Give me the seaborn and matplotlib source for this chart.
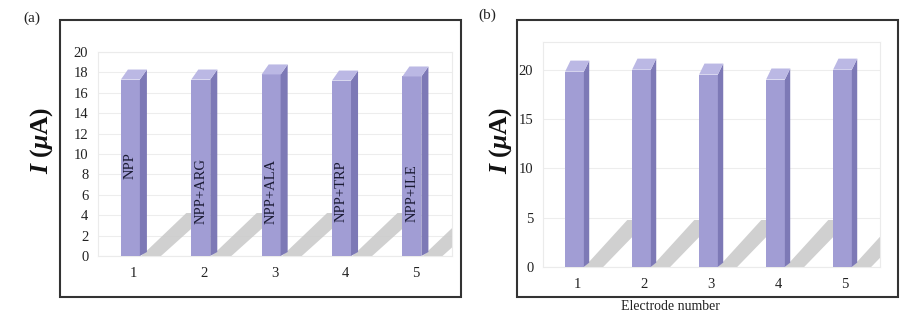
import matplotlib
matplotlib.use("Agg")
import matplotlib.pyplot as plt
import seaborn as sns
import pandas as pd
from matplotlib.patches import Polygon, Rectangle

# ---- data ----
electrodes = ["1", "2", "3", "4", "5"]
current_a = [17.3, 17.3, 17.8, 17.2, 17.6]
labels_a = ["NPP", "NPP+ARG", "NPP+ALA", "NPP+TRP", "NPP+ILE"]
label_y_a = [8.9, 6.4, 6.3, 6.4, 6.2]
current_b = [19.8, 20.0, 19.5, 19.0, 20.0]
yticks_a = list(range(0, 21, 2))
yticks_b = [0, 5, 10, 15, 20]

sns.set_theme(style="white")
plt.rcParams["font.family"] = ["Liberation Serif", "DejaVu Serif"]
plt.rcParams["mathtext.fontset"] = "custom"
plt.rcParams["mathtext.rm"] = "Liberation Serif"
plt.rcParams["mathtext.bf"] = "Liberation Serif:bold"
plt.rcParams["mathtext.it"] = "Liberation Serif:italic"
plt.rcParams["mathtext.bfit"] = "Liberation Serif:bold:italic"

W, H = 908, 322
fig = plt.figure(figsize=(W / 100, H / 100), dpi=100)

FRONT = "#a19dd4"
SIDE = "#7d79b6"
TOP = "#bbb8e4"
SHADOW = "#cbcbcb"


def ax_box(l, r, t, b):
    return [l / W, (H - b) / H, (r - l) / W, (b - t) / H]


def draw_panel(ax, values, ylim, yticks, width, dx_units, dy_px, shadow_px):
    df = pd.DataFrame({"electrode": electrodes, "I": values})
    sns.barplot(data=df, x="electrode", y="I", order=electrodes, color=FRONT,
                width=width, saturation=1, ax=ax, zorder=3, edgecolor="none")
    ax.set_ylim(*ylim)
    ax.set_xlim(-0.51, len(electrodes) - 1 + 0.52)
    bbox = ax.get_window_extent()
    upp = (ylim[1] - ylim[0]) / bbox.height
    dy = dy_px * upp
    sh = shadow_px * upp
    for p in ax.patches[:len(values)]:
        x0 = p.get_x() - dx_units / 2
        p.set_x(x0)
        w = p.get_width()
        h = p.get_height()
        side = Polygon([(x0 + w, 0), (x0 + w + dx_units, dy * 0.4),
                        (x0 + w + dx_units, h + dy), (x0 + w, h)],
                       closed=True, facecolor=SIDE, edgecolor="none", zorder=3)
        top = Polygon([(x0, h), (x0 + w, h), (x0 + w + dx_units, h + dy),
                       (x0 + dx_units, h + dy)],
                      closed=True, facecolor=TOP, edgecolor="none", zorder=3)
        xs = x0 + w + dx_units * 0.6
        shadow = Polygon([(xs - 0.04, 0), (xs + 0.24, 0), (xs + 0.92, sh),
                          (xs + 0.60, sh)],
                         closed=True, facecolor=SHADOW, edgecolor="none",
                         zorder=2, alpha=0.9)
        ax.add_patch(side)
        ax.add_patch(top)
        ax.add_patch(shadow)
    ax.set_yticks(yticks)
    ax.set_xlabel("")
    ax.set_ylabel("")
    ax.grid(axis="y", color="#ededed", lw=0.8, zorder=0)
    for s in ax.spines.values():
        s.set_color("#ebebeb")
        s.set_linewidth(0.8)
    ax.tick_params(axis="both", length=0, labelsize=10.5, colors="#222222")
    ax.tick_params(axis="y", pad=7)
    ax.tick_params(axis="x", pad=8)


# Panel (a)
ax1 = fig.add_axes(ax_box(98, 452, 52, 256))
draw_panel(ax1, current_a, (0, 20), yticks_a, 0.27, 0.1, 10, 43)
for i, (lab, ly) in enumerate(zip(labels_a, label_y_a)):
    p = ax1.patches[i]
    ax1.text(p.get_x() + p.get_width() / 2, ly, lab, rotation=90,
             ha="center", va="center", fontsize=10.5, color="#1a1a33", zorder=5)

# Panel (b)
ax2 = fig.add_axes(ax_box(543, 880, 42, 267))
draw_panel(ax2, current_b, (0, 22.8), yticks_b, 0.28, 0.08, 11, 47)

ylab = r"$\mathbfit{I}\ \mathbf{(}\mathbfit{\mu}\mathbf{A)}$"
fig.text(42 / W, 1 - 140 / H, ylab, rotation=90, ha="center", va="center",
         fontsize=18.5, color="#111111")
fig.text(501 / W, 1 - 140 / H, ylab, rotation=90, ha="center", va="center",
         fontsize=18.5, color="#111111")
fig.text(670 / W, 1 - 307 / H, "Electrode number", ha="center", va="center",
         fontsize=10, color="#222222")
fig.text(32 / W, 1 - 18 / H, "(a)", ha="center", va="center", fontsize=11,
         color="#222222")
fig.text(487 / W, 1 - 15 / H, "(b)", ha="center", va="center", fontsize=11,
         color="#222222")

# outer frames
fig.patches.append(Rectangle((60 / W, 1 - 297 / H), 401 / W, 277 / H,
                             transform=fig.transFigure, fill=False,
                             edgecolor="#333333", lw=1.5))
fig.patches.append(Rectangle((517 / W, 1 - 297 / H), 381 / W, 277 / H,
                             transform=fig.transFigure, fill=False,
                             edgecolor="#333333", lw=1.5))

fig.savefig("out.png", dpi=100, facecolor="white")
